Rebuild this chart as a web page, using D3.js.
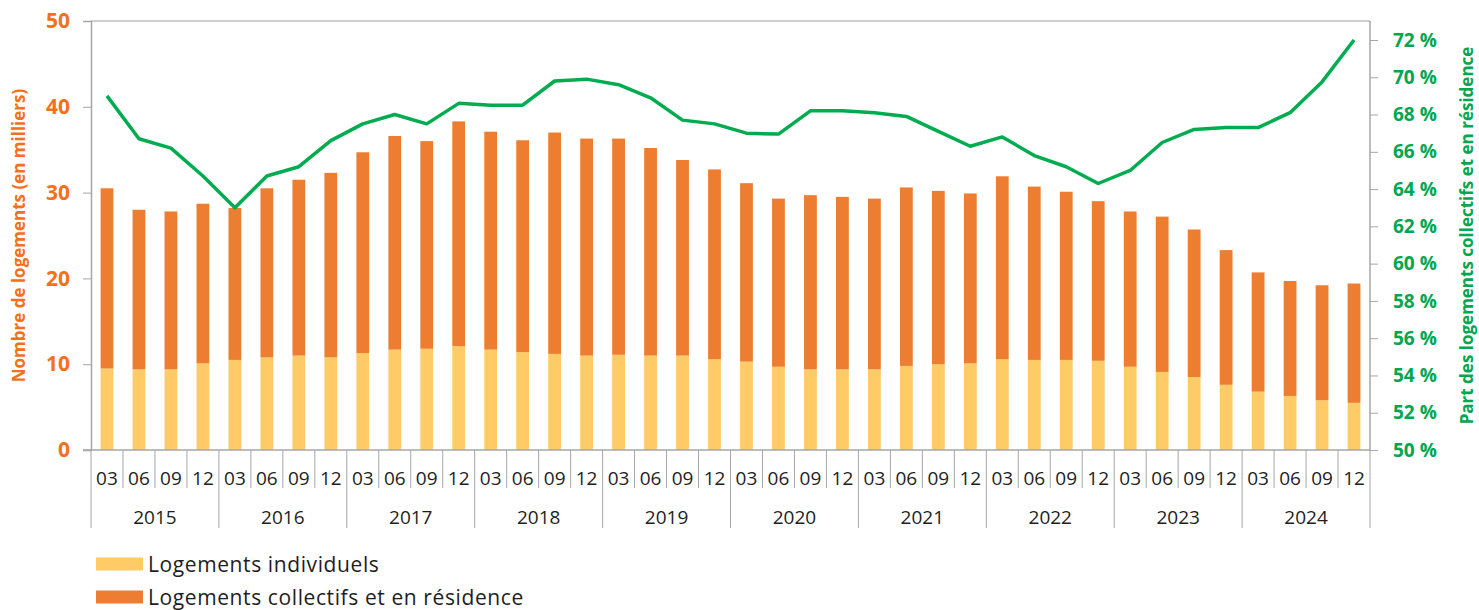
<!DOCTYPE html>
<html>
<head>
<meta charset="utf-8">
<script src="https://cdn.jsdelivr.net/npm/d3@7"></script>
<style>
  body { margin: 0; background: #fff; }
  svg text { font-family: "Open Sans", "Noto Sans", sans-serif; }
</style>
</head>
<body>
<svg id="chart" width="1479" height="610"></svg>
<script>
// data
var years = ["2015", "2016", "2017", "2018", "2019", "2020", "2021", "2022", "2023", "2024"];
var months = ["03", "06", "09", "12"];

// total housing starts (thousands) and individual part
var totals = [30.5, 28.0, 27.8, 28.7, 28.2, 30.5, 31.5, 32.3, 34.7, 36.6, 36.0, 38.3,
              37.1, 36.1, 37.0, 36.3, 36.3, 35.2, 33.8, 32.7, 31.1, 29.3, 29.7, 29.5,
              29.3, 30.6, 30.2, 29.9, 31.9, 30.7, 30.1, 29.0, 27.8, 27.2, 25.7, 23.3,
              20.7, 19.7, 19.2, 19.4];
var individuels = [9.5, 9.4, 9.4, 10.1, 10.5, 10.8, 11.0, 10.8, 11.3, 11.7, 11.8, 12.1,
                   11.7, 11.4, 11.2, 11.0, 11.1, 11.0, 11.0, 10.6, 10.3, 9.7, 9.4, 9.4,
                   9.4, 9.8, 10.0, 10.1, 10.6, 10.5, 10.5, 10.4, 9.7, 9.1, 8.5, 7.6,
                   6.8, 6.3, 5.8, 5.5];
// share of collective + residence (%)
var partCollectifs = [69.0, 66.7, 66.2, 64.7, 63.0, 64.7, 65.2, 66.6, 67.5, 68.0, 67.5, 68.6,
                      68.5, 68.5, 69.8, 69.9, 69.6, 68.9, 67.7, 67.5, 67.0, 66.95, 68.2, 68.2,
                      68.1, 67.9, 67.1, 66.3, 66.8, 65.8, 65.2, 64.3, 65.0, 66.5, 67.2, 67.3,
                      67.3, 68.1, 69.75, 72.0];

var leftTicks = [0, 10, 20, 30, 40, 50];
var rightTicks = [50, 52, 54, 56, 58, 60, 62, 64, 66, 68, 70, 72];

var colIndiv = "#FFCB67";
var colCollectif = "#ED7D31";
var colLine = "#00AC4F";
var colOrangeText = "#F5701A";
var colGreenText = "#00A650";
var colAxis = "#A6A6A6";

// build rows
var rows = [];
years.forEach(function(y) {
  months.forEach(function(m) {
    rows.push({ key: y + "-" + m, year: y, month: m });
  });
});
rows.forEach(function(r, i) {
  r.total = totals[i];
  r.indiv = individuels[i];
  r.part = partCollectifs[i];
});

var svg = d3.select("#chart");
// note: "top" is reserved by window, so plot* names
var plotLeft = 91, plotRight = 1370, plotTop = 21, plotBottom = 450;

var x = d3.scaleBand().domain(rows.map(function(d) { return d.key; }))
  .range([plotLeft, plotRight]).paddingInner(0.6).paddingOuter(0.3);
var yL = d3.scaleLinear().domain([0, 50]).range([plotBottom, plotTop]);
var yR = d3.scaleLinear().domain([50, 72]).range([plotBottom, 40]);

//plot frame (top border)
svg.append("line")
  .attr("x1", plotLeft).attr("x2", plotRight).attr("y1", plotTop).attr("y2", plotTop)
  .attr("stroke", "#BFBFBF").attr("stroke-width", 1.5);

//bars : individuels at bottom, collectifs stacked on top
var g = svg.append("g");
g.selectAll(".indiv").data(rows).enter().append("rect")
  .attr("x", function(d) { return x(d.key); })
  .attr("width", x.bandwidth())
  .attr("y", function(d) { return yL(d.indiv); })
  .attr("height", function(d) { return yL(0) - yL(d.indiv); })
  .attr("fill", colIndiv);
g.selectAll(".coll").data(rows).enter().append("rect")
  .attr("x", function(d) { return x(d.key); })
  .attr("width", x.bandwidth())
  .attr("y", function(d) { return yL(d.total); })
  .attr("height", function(d) { return yL(d.indiv) - yL(d.total); })
  .attr("fill", colCollectif);

//left axis
var axL = svg.append("g").attr("transform", "translate(" + plotLeft + ",0)")
  .call(d3.axisLeft(yL).tickValues(leftTicks).tickSize(8).tickPadding(13));
axL.select(".domain").attr("stroke", colAxis).attr("stroke-width", 1.5);
axL.selectAll(".tick line").attr("stroke", colAxis);
axL.selectAll("text").attr("fill", colOrangeText).attr("font-size", 21)
  .attr("font-weight", "bold");

//right axis
var axR = svg.append("g").attr("transform", "translate(" + plotRight + ",0)")
  .call(d3.axisRight(yR).tickValues(rightTicks).tickSize(8).tickPadding(15)
    .tickFormat(function(d) { return d + " %"; }));
axR.select(".domain").remove();
svg.append("line").attr("x1", plotRight).attr("x2", plotRight).attr("y1", plotTop).attr("y2", plotBottom)
  .attr("stroke", colAxis).attr("stroke-width", 1.5);
axR.selectAll(".tick line").attr("stroke", colAxis);
axR.selectAll("text").attr("fill", colGreenText).attr("font-size", 19)
  .attr("font-weight", "bold");

//bottom axis line
svg.append("line").attr("x1", plotLeft - 8).attr("x2", plotRight).attr("y1", plotBottom).attr("y2", plotBottom)
  .attr("stroke", colAxis).attr("stroke-width", 1.5);

//category separators (months short, years long)
var sepG = svg.append("g");
d3.range(rows.length + 1).forEach(function(i) {
  var xx = plotLeft + i * (plotRight - plotLeft) / rows.length;
  sepG.append("line")
    .attr("x1", xx).attr("x2", xx).attr("y1", plotBottom)
    .attr("y2", i % 4 === 0 ? 528 : 488)
    .attr("stroke", colAxis).attr("stroke-width", 1);
});

//month labels
svg.append("g").selectAll("text").data(rows).enter().append("text")
  .attr("x", function(d) { return x(d.key) + x.bandwidth() / 2; })
  .attr("y", 478)
  .attr("text-anchor", "middle").attr("dominant-baseline", "central")
  .attr("font-size", 19).attr("fill", "#1E1E1E")
  .text(function(d) { return d.month; });

//year labels
var yearW = (plotRight - plotLeft) / years.length;
svg.append("g").selectAll("text").data(years).enter().append("text")
  .attr("x", function(d, i) { return plotLeft + (i + 0.5) * yearW; })
  .attr("y", 517)
  .attr("text-anchor", "middle").attr("dominant-baseline", "central")
  .attr("font-size", 19).attr("fill", "#1E1E1E")
  .text(function(d) { return d; });

//line on right axis
var line = d3.line()
  .x(function(d) { return x(d.key) + x.bandwidth() / 2; })
  .y(function(d) { return yR(d.part); });
svg.append("path").datum(rows)
  .attr("d", line)
  .attr("fill", "none").attr("stroke", colLine).attr("stroke-width", 3.5)
  .attr("stroke-linejoin", "round");

//axis titles
svg.append("text")
  .attr("transform", "translate(18," + ((plotTop + plotBottom) / 2) + ") rotate(-90)")
  .attr("text-anchor", "middle").attr("dominant-baseline", "central")
  .attr("font-size", 17).attr("font-weight", "bold").attr("fill", colOrangeText)
  .text("Nombre de logements (en milliers)");
svg.append("text")
  .attr("transform", "translate(1466," + ((plotTop + plotBottom) / 2) + ") rotate(-90)")
  .attr("text-anchor", "middle").attr("dominant-baseline", "central")
  .attr("font-size", 17).attr("font-weight", "bold").attr("fill", colGreenText)
  .text("Part des logements collectifs et en résidence");

//legend
var legend = [
  { label: "Logements individuels", color: colIndiv },
  { label: "Logements collectifs et en résidence", color: colCollectif }
];
var lg = svg.append("g").selectAll("g").data(legend).enter().append("g")
  .attr("transform", function(d, i) { return "translate(96," + (564 + i * 33) + ")"; });
lg.append("rect").attr("x", 0).attr("y", -6.5).attr("width", 47).attr("height", 13)
  .attr("fill", function(d) { return d.color; });
lg.append("text").attr("x", 52).attr("y", 0).attr("dominant-baseline", "central")
  .attr("font-size", 21).attr("letter-spacing", 0.6).attr("fill", "#1E1E1E")
  .text(function(d) { return d.label; });
</script>
</body>
</html>
